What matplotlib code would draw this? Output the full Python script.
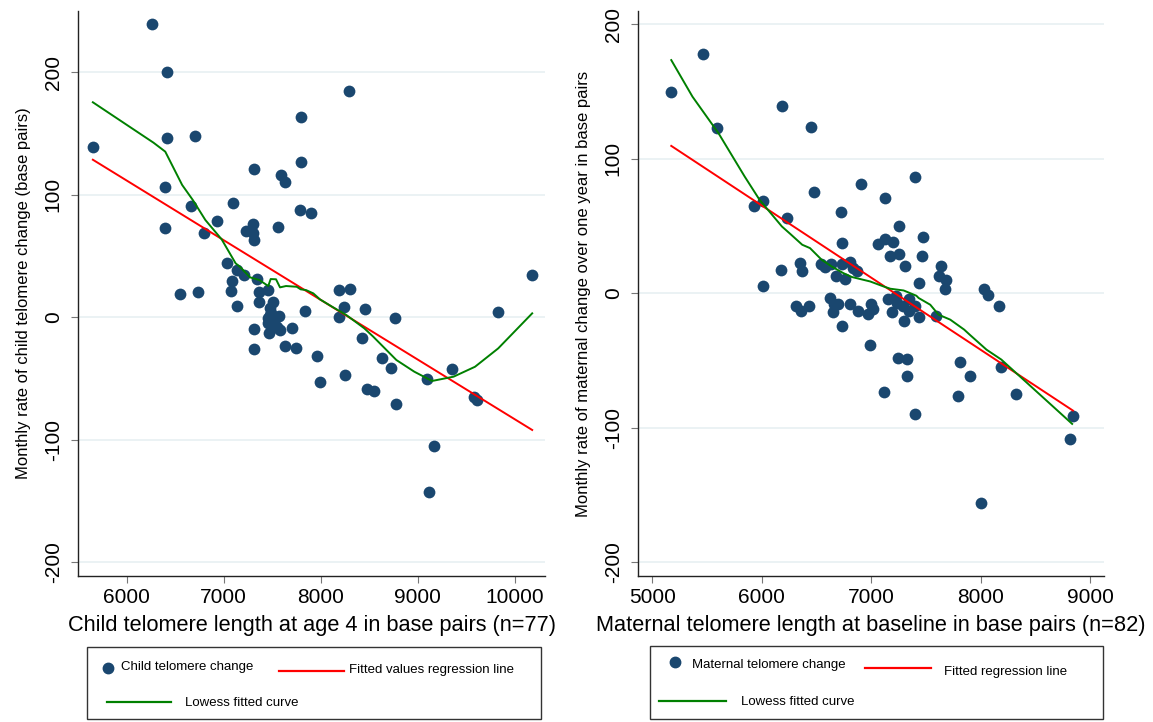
import numpy as np
import matplotlib
matplotlib.use("Agg")
import matplotlib.pyplot as plt
from matplotlib.lines import Line2D
from matplotlib.patches import Rectangle

plt.rcParams['font.family'] = ['Liberation Sans', 'DejaVu Sans']
plt.rcParams['axes.unicode_minus'] = False

# ---- child panel data ----
child_len = [6265, 5651, 6413, 6413, 6700, 6394, 6397, 6662, 6799, 6935, 7093, 6545, 6736,
             7038, 7086, 7075, 7141, 7207, 7137, 7314, 7296, 7233, 7300, 7314, 7556, 7594,
             7627, 7796, 7792, 7788, 7898, 8289, 7343, 7362, 7454, 7365, 7509, 7472, 7564,
             7837, 8190, 8303, 8241, 8451, 8190, 8767, 9827, 10177, 7454, 7314, 7704, 7314,
             7627, 7744, 7958, 7987, 8245, 8428, 8627, 8723, 8477, 8550, 8778, 9098, 9352,
             9580, 9606, 9168, 9113, 7460, 7545, 7470, 7575, 7500, 7490, 7520, 7480]
child_chg = [239, 139, 199.7, 146, 147.5, 105.9, 72.9, 90.6, 68.3, 78.4, 92.8, 18.5, 20.4,
             43.8, 29.6, 21.5, 38.4, 34.0, 9.0, 120.6, 75.9, 70.4, 68.3, 62.9, 73.5, 115.9,
             110, 163, 126.3, 87.6, 84.7, 184.2, 31.3, 20.2, 22, 12.5, 12.5, 7.1, 0.8,
             4.6, 22.3, 22.9, 7.9, 6.5, -0.2, -0.5, 4.1, 34.3, -5.2, -9.8, -9.3, -26.4,
             -23.4, -25.3, -31.8, -52.8, -47.6, -16.9, -33.2, -41.4, -59, -60.2, -71, -50.9, -42.7,
             -65, -67.8, -105.3, -142.6, -1, -8, -13, -11, -9, 3, -4, 2]
child_fit_x = [5651, 10177]
child_fit_y = [128.4, -92.2]
child_low_x = [5651, 6276, 6397, 6571, 6681, 6810, 6978, 7122, 7167, 7270, 7366, 7458, 7483,
               7538, 7579, 7641, 7751, 7792, 7847, 7922, 7991, 8116, 8263, 8447, 8539, 8778,
               8962, 9146, 9367, 9588, 9827, 10177]
child_low_y = [175.3, 142.3, 135, 107.8, 95.5, 79.2, 63.4, 43.8, 41, 32.4, 30.2, 25.3, 31,
               30.8, 24.2, 25.3, 24.7, 22.6, 22, 19.3, 14.4, 8.4, 1.6, -9.2, -16, -35.1,
               -44.6, -52.2, -48.7, -40.6, -25.6, 3]

# ---- maternal panel data ----
mat_len = [5173, 5462, 5595, 6184, 6452, 5929, 6010, 6228, 6007, 6180, 6350, 6367, 6477, 6908,
           7122, 7398, 6728, 6735, 7255, 7058, 7126, 7204, 7476, 7173, 7258, 7462, 7313, 7640,
           7619, 7687, 7436, 7677, 8031, 8064, 8167, 6537, 6582, 6633, 6738, 6806, 6830, 6871,
           6677, 6762, 6626, 6663, 6803, 6997, 7017, 6881, 6972, 6650, 6310, 6361, 6429, 7156,
           7236, 7291, 7342, 7403, 7190, 7297, 7440, 7593, 6733, 6993, 7242, 7330, 7330, 7119,
           7405, 7813, 7901, 7793, 8184, 8327, 8844, 8820, 8003, 7350, 7230, 6700]
mat_chg = [149.7, 177.9, 122.5, 139, 123.2, 65, 68.3, 55.7, 5.2, 16.8, 22.5, 16.6, 75, 81.1,
           71, 86.6, 60.4, 37.1, 50, 36.6, 40.5, 37.6, 41.3, 27.2, 29.2, 27.7, 20.3, 20.3,
           12.3, 9.4, 7.4, 3, 3, -1.3, -9.7, 21.5, 19.3, 21.5, 21.5, 22.7, 18.6, 16.6,
           12.3, 10.4, -3.7, -7.9, -7.9, -7.9, -11.9, -13.1, -15.4, -14.4, -9.9, -13.7, -9.9, -4.5,
           -7.4, -9.4, -4.2, -9.4, -14.4, -20.6, -18.1, -16.9, -24.8, -38.4, -48.5, -48.8, -61.9, -73.5,
           -90.1, -51.5, -61.9, -76.2, -54.9, -74.8, -91.6, -108.2, -155.9, -13, -2, -8]
mat_fit_x = [5173, 8844]
mat_fit_y = [109.4, -87.4]
mat_low_x = [5173, 5367, 5605, 5844, 5980, 6184, 6260, 6370, 6441, 6548, 6640, 6746, 6824,
             6991, 7113, 7175, 7297, 7413, 7434, 7540, 7616, 7723, 7850, 7901, 8054, 8190, 8837]
mat_low_y = [173.2, 146, 118.8, 86.6, 69.3, 49.5, 44, 35.9, 33.4, 24.7, 19.7, 14.8, 11.9,
             8.6, 4.9, 3.2, 1.9, -2, -3.7, -8.7, -16.1, -19.8, -27.2, -31, -42.1, -49.5, -97.3]

yticks = [-200, -100, 0, 100, 200]

navy = '#1a476f'
red = '#ff0000'
green = '#008000'

W, H = 1153, 722
fig = plt.figure(figsize=(W / 100, H / 100), dpi=100)


def box(x0, y0, x1, y1):
    # pixel box -> figure fraction rect
    return [x0 / W, 1 - y1 / H, (x1 - x0) / W, (y1 - y0) / H]


def setup(ax, xlim, ylim, xticks, xlabel, ylabel):
    ax.set_xlim(*xlim)
    ax.set_ylim(*ylim)
    ax.set_xticks(xticks)
    ax.set_yticks(yticks)
    ax.grid(axis='y', color='#e8f0f2', linewidth=1.2, zorder=0)
    ax.set_axisbelow(True)
    for s in ['top', 'right']:
        ax.spines[s].set_visible(False)
    for s in ['left', 'bottom']:
        ax.spines[s].set_color('#222222')
        ax.spines[s].set_linewidth(1.0)
    ax.tick_params(axis='both', direction='out', length=5, color='#777777', labelsize=15)
    ax.tick_params(axis='y', pad=6)
    for lab in ax.get_yticklabels():
        lab.set_rotation(90)
        lab.set_va('center')
    ax.set_xlabel(xlabel, fontsize=15.7, labelpad=6)
    ax.set_ylabel(ylabel, fontsize=12, labelpad=9)


ax1 = fig.add_axes(box(78, 11, 545, 576))
ax1.scatter(child_len, child_chg, s=72, color=navy, zorder=3, linewidths=0)
ax1.plot(child_fit_x, child_fit_y, color=red, lw=1.4, zorder=4)
ax1.plot(child_low_x, child_low_y, color=green, lw=1.4, zorder=5)
setup(ax1, (5498, 10309), (-211.4, 249.8), [6000, 7000, 8000, 9000, 10000],
      'Child telomere length at age 4 in base pairs (n=77)',
      'Monthly rate of child telomere change (base pairs)')

ax2 = fig.add_axes(box(638, 11, 1104, 576))
ax2.scatter(mat_len, mat_chg, s=72, color=navy, zorder=3, linewidths=0)
ax2.plot(mat_fit_x, mat_fit_y, color=red, lw=1.4, zorder=4)
ax2.plot(mat_low_x, mat_low_y, color=green, lw=1.4, zorder=5)
setup(ax2, (4869, 9128), (-210.4, 209.7), [5000, 6000, 7000, 8000, 9000],
      'Maternal telomere length at baseline in base pairs (n=82)',
      'Monthly rate of maternal change over one year in base pairs')


# ---- legends drawn by hand, placed like the Stata boxes ----
def fx(x):
    return x / W


def fy(y):
    return 1 - y / H


leg_font = dict(fontsize=9.5, family=['Liberation Sans Narrow', 'Liberation Sans'],
                va='center', ha='left', transform=fig.transFigure)


def legend(x0, y0, x1, y1, dot, dot_txt, red_seg, red_txt, green_seg, green_txt):
    fig.add_artist(Rectangle((fx(x0), fy(y1)), (x1 - x0) / W, (y1 - y0) / H,
                             transform=fig.transFigure, fill=False,
                             edgecolor='#333333', linewidth=1))
    fig.add_artist(Line2D([fx(dot[0])], [fy(dot[1])], marker='o', markersize=7.5,
                          color=navy, linestyle='none', transform=fig.transFigure))
    fig.text(fx(dot_txt[0]), fy(dot_txt[1]), dot_txt[2], **leg_font)
    fig.add_artist(Line2D([fx(red_seg[0]), fx(red_seg[1])], [fy(red_seg[2])] * 2,
                          color=red, lw=1.6, transform=fig.transFigure))
    fig.text(fx(red_txt[0]), fy(red_txt[1]), red_txt[2], **leg_font)
    fig.add_artist(Line2D([fx(green_seg[0]), fx(green_seg[1])], [fy(green_seg[2])] * 2,
                          color=green, lw=1.6, transform=fig.transFigure))
    fig.text(fx(green_txt[0]), fy(green_txt[1]), green_txt[2], **leg_font)


legend(87, 647, 541, 719,
       (108, 668), (121, 667, 'Child telomere change'),
       (279, 344, 671), (349, 670, 'Fitted values regression line'),
       (107, 171, 702), (185, 703, 'Lowess fitted curve'))
legend(650, 646, 1103, 719,
       (675, 662), (692, 665, 'Maternal telomere change'),
       (865, 931, 668), (944, 672, 'Fitted regression line'),
       (659, 726, 701), (741, 702, 'Lowess fitted curve'))

fig.savefig('out.png', dpi=100)
